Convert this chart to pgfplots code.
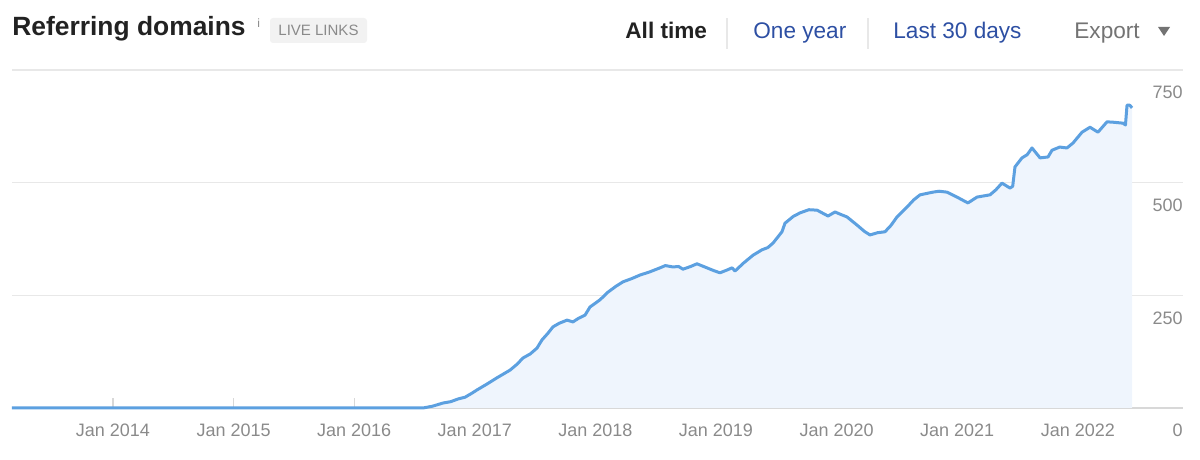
\documentclass[border=0pt]{standalone}
\usepackage{fontspec}
\setmainfont{Liberation Sans}
\usepackage{pgfplots}
\pgfplotsset{compat=1.18}
\definecolor{linec}{HTML}{5CA0E0}
\definecolor{fillc}{HTML}{EFF5FD}
\definecolor{gridc}{HTML}{E8E8E8}
\definecolor{basec}{HTML}{D8D8D8}
\definecolor{tickc}{HTML}{8A8A8A}
\definecolor{navblue}{HTML}{2D4FA3}
\definecolor{boxc}{HTML}{F2F2F2}
\definecolor{titlec}{HTML}{222222}
\begin{document}
\begin{tikzpicture}[x=0.5pt,y=0.5pt]
\path[use as bounding box] (0,0) rectangle (1200,460);
% header
\node[anchor=base west, inner sep=0pt, font=\fontsize{13.2}{13.2}\selectfont\bfseries, text=titlec] at (12,424) {Referring domains};
\node[anchor=base west, inner sep=0pt, font=\fontsize{6}{6}\selectfont, text=tickc] at (257,432) {i};
\node[fill=boxc, rounded corners=1.5pt, text=tickc, font=\fontsize{7.5}{7.5}\selectfont, inner sep=0pt, minimum width=48.5pt, minimum height=12.5pt] at (318.5,429.5) {LIVE LINKS};
\node[anchor=base west, inner sep=0pt, font=\fontsize{11.3}{11.3}\selectfont\bfseries, text=titlec] at (625,421.5) {All time};
\draw[gridc, line width=0.6pt] (727,411) -- (727,442);
\node[anchor=base west, inner sep=0pt, font=\fontsize{11.3}{11.3}\selectfont, text=navblue] at (753,421.5) {One year};
\draw[gridc, line width=0.6pt] (868,411) -- (868,442);
\node[anchor=base west, inner sep=0pt, font=\fontsize{11.3}{11.3}\selectfont, text=navblue] at (893,421.5) {Last 30 days};
\node[anchor=base west, inner sep=0pt, font=\fontsize{11.3}{11.3}\selectfont, text=black!55] at (1074,421.5) {Export};
\fill[black!55] (1158,433) -- (1170,433) -- (1164,424) -- cycle;
\begin{axis}[
  at={(6pt,26pt)}, anchor=south west,
  width=585.5pt, height=169pt, scale only axis,
  xmin=2013.163, xmax=2022.872, ymin=0, ymax=750,
  axis line style={draw=none},
  clip=false,
  xtick={2014,2015,2016,2017,2018,2019,2020,2021,2022},
  xticklabels={Jan 2014,Jan 2015,Jan 2016,Jan 2017,Jan 2018,Jan 2019,Jan 2020,Jan 2021,Jan 2022},
  xtick pos=bottom,
  tick align=inside,
  major tick length=5pt,
  x tick style={color=basec, line width=0.6pt},
  ytick={250,500,750},
  extra y ticks={0},
  extra y tick style={grid style={basec, line width=1.1pt}},
  ymajorgrids,
  grid style={gridc, line width=0.7pt},
  ytick pos=right,
  y tick style={draw=none},
  yticklabel pos=right,
  y tick label style={anchor=north east, inner sep=0pt, xshift=0pt, yshift=-8pt, font=\fontsize{9}{9}\selectfont, text=tickc},
  x tick label style={yshift=-4.5pt, font=\fontsize{9}{9}\selectfont, text=tickc},
  /pgf/number format/assume math mode=true,
]
\pgfplotstableread{
x y
2013.163 0
2016.570 0
2016.650 4
2016.736 11
2016.800 14
2016.861 20
2016.920 24
2016.977 33
2017.018 40
2017.100 53
2017.184 67
2017.292 84
2017.350 97
2017.400 111
2017.460 120
2017.516 133
2017.557 151
2017.607 166
2017.648 180
2017.700 188
2017.765 195
2017.814 191
2017.860 199
2017.914 206
2017.955 224
2018.038 240
2018.104 257
2018.170 270
2018.229 280
2018.300 287
2018.370 295
2018.450 302
2018.536 311
2018.580 316
2018.643 313
2018.690 314
2018.726 308
2018.790 314
2018.842 320
2018.925 311
2018.980 305
2019.033 300
2019.090 306
2019.133 311
2019.158 304
2019.230 322
2019.307 339
2019.381 351
2019.430 356
2019.473 366
2019.547 391
2019.572 410
2019.640 425
2019.697 433
2019.770 440
2019.838 439
2019.929 426
2019.987 435
2020.030 430
2020.086 424
2020.169 406
2020.230 392
2020.277 384
2020.340 389
2020.401 391
2020.450 405
2020.501 424
2020.584 446
2020.640 462
2020.692 473
2020.799 479
2020.850 481
2020.915 479
2020.998 468
2021.089 455
2021.164 468
2021.272 473
2021.320 484
2021.371 499
2021.438 488
2021.460 492
2021.479 535
2021.537 555
2021.580 562
2021.620 577
2021.687 555
2021.753 557
2021.786 572
2021.850 579
2021.910 577
2021.960 588
2022.035 612
2022.101 623
2022.167 612
2022.242 635
2022.300 634
2022.375 632
2022.395 628
2022.408 672
2022.430 672
2022.450 666
}\datatable
\addplot[draw=none, fill=fillc] table[x=x,y=y] {\datatable} \closedcycle;
\addplot[linec, line width=1.5pt, line join=round] table[x=x,y=y] {\datatable};
\end{axis}
\end{tikzpicture}
\end{document}
